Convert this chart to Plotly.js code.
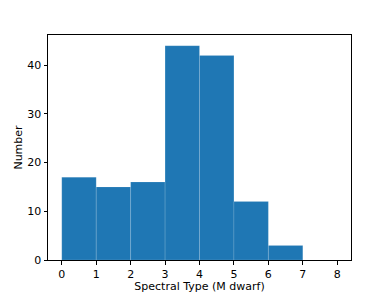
<!DOCTYPE html>
<html>
<head>
<meta charset="utf-8">
<script src="https://cdn.plot.ly/plotly-3.0.1.min.js"></script>
<style>html,body{margin:0;padding:0;background:#fff;}#chart{width:390px;height:293px;}</style>
</head>
<body>
<div id="chart"></div>
<script>
const binStarts = [0, 1, 2, 3, 4, 5, 6, 7];
const counts = [17, 15, 16, 44, 42, 12, 3, 0];
const xTicks = [0, 1, 2, 3, 4, 5, 6, 7, 8];
const yTicks = [0, 10, 20, 30, 40];

const font = {family: 'DejaVu Sans', size: 11, color: '#000'};
const trace = {
  type: 'bar',
  x: binStarts,
  y: counts,
  width: 1,
  offset: 0,
  marker: {color: '#1f77b4', line: {color: 'rgba(255,255,255,0.25)', width: 0.5}},
  hoverinfo: 'skip'
};
const axisCommon = {
  showline: true, linecolor: '#000', linewidth: 1, mirror: true,
  ticks: 'outside', ticklen: 3.5, tickwidth: 1, tickcolor: '#000',
  showgrid: false, zeroline: false, tickfont: font
};
const layout = {
  width: 390, height: 293,
  margin: {l: 48, r: 39, t: 35, b: 33},
  paper_bgcolor: '#fff', plot_bgcolor: '#fff',
  showlegend: false,
  bargap: 0,
  xaxis: Object.assign({}, axisCommon, {
    range: [-0.4, 8.4], tickvals: xTicks, ticktext: xTicks.map(String),
    title: {text: 'Spectral Type (M dwarf)', font: font, standoff: 2}
  }),
  yaxis: Object.assign({}, axisCommon, {
    range: [0, 46.2], tickvals: yTicks, ticktext: yTicks.map(String),
    title: {text: 'Number', font: font, standoff: 2}
  })
};
Plotly.newPlot('chart', [trace], layout, {displayModeBar: false, staticPlot: true});
</script>
</body>
</html>
